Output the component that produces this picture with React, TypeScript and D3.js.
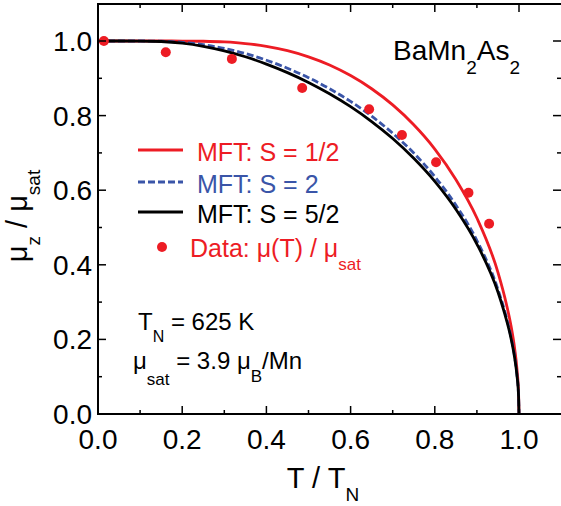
import React from "react";
import * as d3 from "d3";

const tValues = [0, 0.1, 0.15, 0.2, 0.25, 0.3, 0.35, 0.4, 0.45, 0.5, 0.55, 0.6, 0.65, 0.7, 0.75, 0.8, 0.85, 0.9, 0.95, 0.97, 0.98, 0.99, 0.995, 0.999, 1.0];
const mftHalf = [1, 1, 1, 0.9999, 0.9993, 0.9974, 0.9932, 0.9857, 0.974, 0.9575, 0.9357, 0.9073, 0.872, 0.8286, 0.7754, 0.7104, 0.6288, 0.5254, 0.3798, 0.295, 0.2425, 0.1726, 0.1222, 0.0547, 0];
const mftTwo = [1, 0.99998, 0.9994, 0.9965, 0.9902, 0.9802, 0.9664, 0.9485, 0.927, 0.9017, 0.8721, 0.838, 0.7984, 0.7526, 0.6996, 0.6364, 0.5602, 0.4651, 0.334, 0.259, 0.212, 0.151, 0.107, 0.048, 0];
const mftFiveHalves = [1, 0.99992, 0.9987, 0.9943, 0.9859, 0.9736, 0.9577, 0.9381, 0.9153, 0.889, 0.8585, 0.8239, 0.7841, 0.7386, 0.6856, 0.6237, 0.549, 0.4557, 0.327, 0.253, 0.208, 0.148, 0.105, 0.047, 0];

const dataT = [0.014, 0.161, 0.318, 0.485, 0.644, 0.722, 0.803, 0.88, 0.929];
const dataMu = [1.0, 0.97, 0.952, 0.874, 0.817, 0.748, 0.675, 0.593, 0.51];

const xMajor = [0, 0.2, 0.4, 0.6, 0.8, 1.0];
const xMinor = [0.1, 0.3, 0.5, 0.7, 0.9];
const yMajor = [0, 0.2, 0.4, 0.6, 0.8, 1.0];
const yMinor = [0.1, 0.3, 0.5, 0.7, 0.9];

const RED = "#ed1c24";
const BLUE = "#3a55a8";
const FONT = "'Liberation Sans', Arial, sans-serif";

export default function App() {
  const W = 561, H = 506;
  const left = 98, right = 562, top = 4, bottom = 414;
  const x = d3.scaleLinear().domain([0, 1.1]).range([left, left + (519 - left) * 1.1]);
  const y = d3.scaleLinear().domain([0, 1.0]).range([bottom, 41]);

  const line = (vals: number[]) =>
    d3.line<number>().x((_, i) => x(tValues[i])).y((v) => y(v)).curve(d3.curveMonotoneX)(vals) || "";

  const major = 8, minor = 4;

  return (
    <svg width={W} height={H} style={{ position: "fixed", left: 0, top: 0 }} fontFamily={FONT}>
      <rect x={0} y={0} width={W} height={H} fill="white" />
      {/* curves */}
      <path d={line(mftHalf)} fill="none" stroke={RED} strokeWidth={2.8} />
      <path d={line(mftTwo)} fill="none" stroke={BLUE} strokeWidth={2.8} strokeDasharray="7,3" />
      <path d={line(mftFiveHalves)} fill="none" stroke="#000" strokeWidth={2.8} />
      {dataT.map((t, i) => (
        <circle key={i} cx={x(t)} cy={y(dataMu[i])} r={5} fill={RED} />
      ))}
      {/* frame */}
      <rect x={left} y={top} width={right - left} height={bottom - top} fill="none" stroke="#000" strokeWidth={2} />
      {/* ticks */}
      {xMajor.map((v) => (
        <g key={"xM" + v}>
          <line x1={x(v)} x2={x(v)} y1={bottom} y2={bottom - major} stroke="#000" strokeWidth={1.5} />
          <line x1={x(v)} x2={x(v)} y1={top} y2={top + major} stroke="#000" strokeWidth={1.5} />
          <text x={x(v)} y={449} fontSize={28} textAnchor="middle">{v.toFixed(1)}</text>
        </g>
      ))}
      {xMinor.map((v) => (
        <g key={"xm" + v}>
          <line x1={x(v)} x2={x(v)} y1={bottom} y2={bottom - minor} stroke="#000" strokeWidth={1.5} />
          <line x1={x(v)} x2={x(v)} y1={top} y2={top + minor} stroke="#000" strokeWidth={1.5} />
        </g>
      ))}
      {yMajor.map((v) => (
        <g key={"yM" + v}>
          <line x1={left} x2={left + major} y1={y(v)} y2={y(v)} stroke="#000" strokeWidth={1.5} />
          <line x1={561} x2={561 - major} y1={y(v)} y2={y(v)} stroke="#000" strokeWidth={1.5} />
          <text x={92} y={y(v) + 10} fontSize={28} textAnchor="end">{v.toFixed(1)}</text>
        </g>
      ))}
      {yMinor.map((v) => (
        <g key={"ym" + v}>
          <line x1={left} x2={left + minor} y1={y(v)} y2={y(v)} stroke="#000" strokeWidth={1.5} />
          <line x1={561} x2={561 - minor} y1={y(v)} y2={y(v)} stroke="#000" strokeWidth={1.5} />
        </g>
      ))}
      {/* axis titles */}
      <text x={323} y={488} fontSize={29} textAnchor="middle">
        T / T<tspan fontSize={19} dy={13}>N</tspan>
      </text>
      <text transform="translate(27,216) rotate(-90)" fontSize={29} textAnchor="middle">
        μ<tspan fontSize={19} dy={13}>z</tspan>
        <tspan dy={-13}> / μ</tspan>
        <tspan fontSize={19} dy={13}>sat</tspan>
      </text>
      {/* compound label */}
      <text x={393} y={60} fontSize={28}>
        BaMn<tspan fontSize={19} dy={14}>2</tspan>
        <tspan dy={-14}>As</tspan>
        <tspan fontSize={19} dy={14}>2</tspan>
      </text>
      {/* legend */}
      <line x1={138} x2={183} y1={150} y2={150} stroke={RED} strokeWidth={2.8} />
      <text x={197} y={161} fontSize={25} fill={RED}>MFT: S = 1/2</text>
      <line x1={138} x2={183} y1={182} y2={182} stroke={BLUE} strokeWidth={2.8} strokeDasharray="7,3" />
      <text x={197} y={193} fontSize={25} fill={BLUE}>MFT: S = 2</text>
      <line x1={138} x2={183} y1={212} y2={212} stroke="#000" strokeWidth={2.8} />
      <text x={197} y={223} fontSize={25}>MFT: S = 5/2</text>
      <circle cx={162} cy={247} r={5} fill={RED} />
      <text x={190} y={257} fontSize={25} fill={RED}>
        Data: μ(T) / μ<tspan fontSize={17} dy={13}>sat</tspan>
      </text>
      {/* annotations */}
      <text x={138} y={330} fontSize={24}>
        T<tspan fontSize={16} dy={12}>N</tspan>
        <tspan dy={-12}> = 625 K</tspan>
      </text>
      <text x={133} y={369} fontSize={24}>
        μ<tspan fontSize={17} dy={16}>sat</tspan>
        <tspan dy={-16}> = 3.9 μ</tspan>
        <tspan fontSize={17} dy={13}>B</tspan>
        <tspan dy={-13}>/Mn</tspan>
      </text>
    </svg>
  );
}
